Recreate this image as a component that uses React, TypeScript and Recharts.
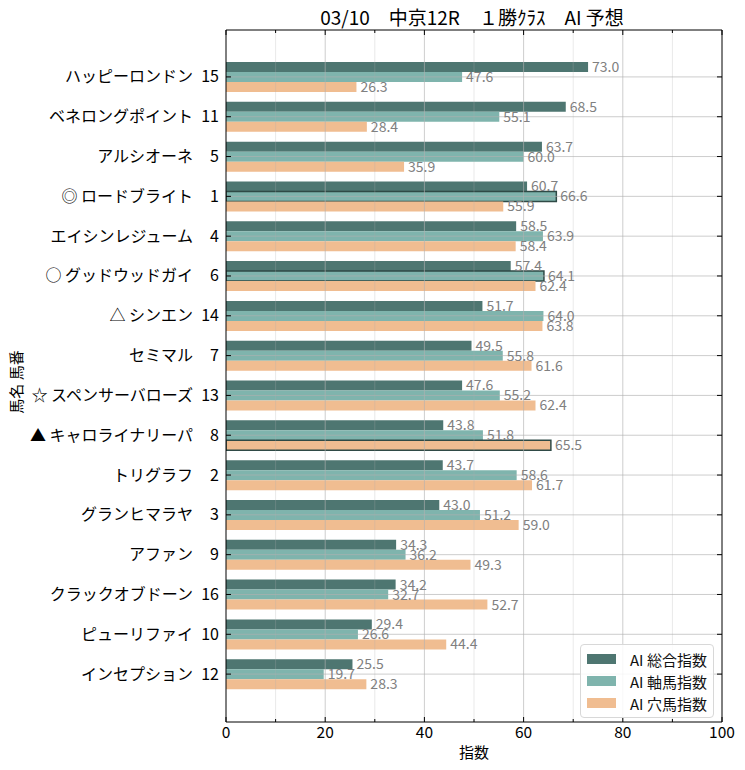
import React from "react";
import { Bar, BarChart, Cell, LabelList, Legend, ReferenceLine, XAxis, YAxis } from "recharts";

const horseNames = [
  "ハッピーロンドン",
  "ベネロングポイント",
  "アルシオーネ",
  "◎ ロードブライト",
  "エイシンレジューム",
  "○ グッドウッドガイ",
  "△ シンエン",
  "セミマル",
  "☆ スペンサーバローズ",
  "▲ キャロライナリーパ",
  "トリグラフ",
  "グランヒマラヤ",
  "アファン",
  "クラックオブドーン",
  "ピューリファイ",
  "インセプション",
];
const horseNumbers = [15, 11, 5, 1, 4, 6, 14, 7, 13, 8, 2, 3, 9, 16, 10, 12];
const sogoIndex = [73.0, 68.5, 63.7, 60.7, 58.5, 57.4, 51.7, 49.5, 47.6, 43.8, 43.7, 43.0, 34.3, 34.2, 29.4, 25.5];
const jikuIndex = [47.6, 55.1, 60.0, 66.6, 63.9, 64.1, 64.0, 55.8, 55.2, 51.8, 58.6, 51.2, 36.2, 32.7, 26.6, 19.7];
const anaIndex = [26.3, 28.4, 35.9, 55.9, 58.4, 62.4, 63.8, 61.6, 62.4, 65.5, 61.7, 59.0, 49.3, 52.7, 44.4, 28.3];
// horses whose bar gets an outline
const jikuPicks = [1, 6];
const anaPicks = [8];
const xTicks = [0, 10, 20, 30, 40, 50, 60, 70, 80, 90, 100];
const majorGrid = [20, 40, 60, 80];
const minorGrid = [10, 30, 50, 70, 90];

const COLORS = { sogo: "#4e7671", jiku: "#7fb4ad", ana: "#f0bd91" };
const EDGE = "#2f4a46";
const seriesMeta = [
  { name: "AI 総合指数", color: COLORS.sogo },
  { name: "AI 軸馬指数", color: COLORS.jiku },
  { name: "AI 穴馬指数", color: COLORS.ana },
];

const rows = horseNames.map((name, i) => ({
  name,
  num: horseNumbers[i],
  sogo: sogoIndex[i],
  jiku: jikuIndex[i],
  ana: anaIndex[i],
}));

const fmt = (v: unknown) => Number(v).toFixed(1);

function HorseTick({ x, y, payload }: any) {
  const i = horseNames.indexOf(payload.value);
  return (
    <g>
      <line x1={x} x2={x + 5} y1={y} y2={y} stroke="#000" />
      <text x={x - 33} y={y} dy={5.5} textAnchor="end" fontSize={16} fill="#000">
        {payload.value}
      </text>
      <text x={x - 7} y={y} dy={5.5} textAnchor="end" fontSize={16} fill="#000">
        {horseNumbers[i]}
      </text>
    </g>
  );
}

function RightTick({ x, y }: any) {
  return <line x1={x} x2={x - 5} y1={y} y2={y} stroke="#000" />;
}

function BottomTick({ x, y, payload }: any) {
  const major = payload.value % 20 === 0;
  return (
    <g>
      <line x1={x} x2={x} y1={y} y2={y - (major ? 5 : 3)} stroke="#000" />
      {major && (
        <text x={x} y={y + 16} textAnchor="middle" fontSize={15.5} fill="#000">
          {payload.value}
        </text>
      )}
    </g>
  );
}

function TopTick({ x, y, payload }: any) {
  const major = payload.value % 20 === 0;
  return <line x1={x} x2={x} y1={y} y2={y + (major ? 5 : 3)} stroke="#000" />;
}

function YTitle({ viewBox }: any) {
  const cx = 15;
  const cy = viewBox.y + viewBox.height / 2 + 6;
  return (
    <text
      x={cx}
      y={cy}
      transform={`rotate(-90 ${cx} ${cy})`}
      textAnchor="middle"
      dominantBaseline="central"
      fontSize={15}
      fill="#000"
    >
      馬名 馬番
    </text>
  );
}

function LegendBox() {
  return (
    <div
      style={{
        border: "1px solid #d8d8d8",
        borderRadius: 4,
        background: "rgba(255,255,255,0.85)",
        padding: "3px 6px 3px 6px",
      }}
    >
      {seriesMeta.map((s) => (
        <div key={s.name} style={{ display: "flex", alignItems: "center", height: 22 }}>
          <span style={{ width: 29, height: 10, background: s.color, marginRight: 14 }} />
          <span style={{ fontSize: 15, color: "#111", whiteSpace: "nowrap" }}>{s.name}</span>
        </div>
      ))}
    </div>
  );
}

export default function App() {
  return (
    <div
      style={{
        position: "absolute",
        left: 0,
        top: 0,
        width: 745,
        height: 770,
        background: "#fff",
        fontFamily: '"Noto Sans CJK JP", "Noto Sans", sans-serif',
      }}
    >
      <div
        style={{
          position: "absolute",
          left: 222,
          width: 500,
          top: 3,
          lineHeight: "28px",
          textAlign: "center",
          fontSize: 19,
          color: "#000",
        }}
      >
        03/10　中京12R　１勝ｸﾗｽ　AI 予想
      </div>
      <BarChart
        width={745}
        height={770}
        data={rows}
        layout="vertical"
        barGap={0}
        barSize={10}
        margin={{ top: 29, right: 22, bottom: 0, left: 0 }}
      >
        <XAxis
          type="number"
          domain={[0, 100]}
          ticks={xTicks}
          interval={0}
          allowDataOverflow
          height={48}
          tickSize={0}
          tickMargin={0}
          tickLine={false}
          tick={<BottomTick />}
          axisLine={{ stroke: "#000" }}
          label={{ value: "指数", position: "insideBottom", offset: 12, fontSize: 15, fill: "#000" }}
        />
        <XAxis
          xAxisId="top"
          orientation="top"
          type="number"
          domain={[0, 100]}
          ticks={xTicks}
          interval={0}
          allowDataOverflow
          height={1}
          tickSize={0}
          tickMargin={0}
          tickLine={false}
          tick={<TopTick />}
          axisLine={{ stroke: "#000" }}
        />
        <YAxis
          type="category"
          dataKey="name"
          width={226}
          interval={0}
          padding={{ top: 27, bottom: 28 }}
          tickSize={0}
          tickMargin={0}
          tickLine={false}
          tick={<HorseTick />}
          axisLine={{ stroke: "#000" }}
          label={<YTitle />}
        />
        <YAxis
          yAxisId="right"
          orientation="right"
          type="category"
          dataKey="name"
          width={1}
          interval={0}
          padding={{ top: 27, bottom: 28 }}
          tickSize={0}
          tickMargin={0}
          tickLine={false}
          tick={<RightTick />}
          axisLine={{ stroke: "#000" }}
        />
        <Bar dataKey="sogo" name="AI 総合指数" fill={COLORS.sogo} isAnimationActive={false}>
          <LabelList dataKey="sogo" position="right" offset={4} formatter={fmt} fontSize={14} fill="#808080" />
        </Bar>
        <Bar dataKey="jiku" name="AI 軸馬指数" fill={COLORS.jiku} isAnimationActive={false}>
          {rows.map((r) => (
            <Cell
              key={r.name}
              stroke={jikuPicks.includes(r.num) ? EDGE : "none"}
              strokeWidth={1.5}
            />
          ))}
          <LabelList dataKey="jiku" position="right" offset={4} formatter={fmt} fontSize={14} fill="#808080" />
        </Bar>
        <Bar dataKey="ana" name="AI 穴馬指数" fill={COLORS.ana} isAnimationActive={false}>
          {rows.map((r) => (
            <Cell
              key={r.name}
              stroke={anaPicks.includes(r.num) ? EDGE : "none"}
              strokeWidth={1.5}
            />
          ))}
          <LabelList dataKey="ana" position="right" offset={4} formatter={fmt} fontSize={14} fill="#808080" />
        </Bar>
        {rows.map((r) => (
          <ReferenceLine key={r.name} y={r.name} stroke="#b0b0b0" strokeOpacity={0.8} strokeWidth={0.8} />
        ))}
        {majorGrid.map((v) => (
          <ReferenceLine key={v} x={v} stroke="#b0b0b0" strokeOpacity={0.8} strokeWidth={0.8} />
        ))}
        {minorGrid.map((v) => (
          <ReferenceLine key={v} x={v} stroke="#b0b0b0" strokeOpacity={0.35} strokeWidth={0.8} />
        ))}
        <Legend
          layout="horizontal"
          verticalAlign="middle"
          align="center"
          content={<LegendBox />}
          wrapperStyle={{ left: 580, top: 644, width: "auto", height: "auto", right: "auto", bottom: "auto" }}
        />
      </BarChart>
    </div>
  );
}
